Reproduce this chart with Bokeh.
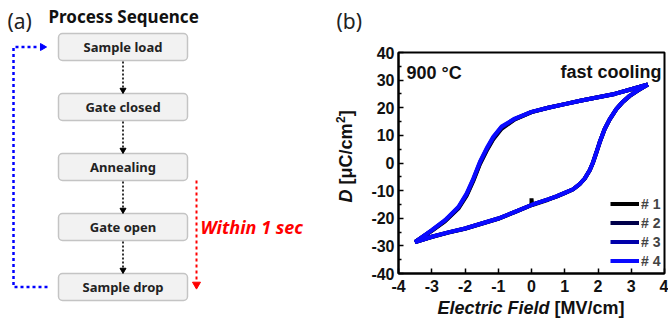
import math
from bokeh.plotting import figure
from bokeh.layouts import row, column
from bokeh.models import Range1d, FixedTicker, Label
from bokeh.core.properties import value
from bokeh.embed import file_html
from bokeh.resources import INLINE

# ---------------- data ----------------
steps = ["Sample load", "Gate closed", "Annealing", "Gate open", "Sample drop"]
note_text = "Within 1 sec"

E_loop = [3.5, 3.0, 2.5, 2.0, 1.5, 1.0, 0.5, 0.0, -0.5, -0.9, -1.15, -1.35, -1.55, -1.75, -1.95, -2.2, -2.6, -3.0, -3.5,
          -3.0, -2.5, -2.0, -1.5, -1.0, -0.5, 0.0, 0.0, 0.02, 0.5, 0.75, 1.0, 1.25, 1.45, 1.6, 1.75, 1.85, 1.95, 2.05,
          2.2, 2.35, 2.55, 2.75, 2.95, 3.2, 3.5]
D_1 = [28.4, 26.7, 25.0, 23.8, 22.6, 21.3, 20.0, 18.4, 15.8, 12.4, 8.6, 4.4, -0.4, -6.5, -11.8, -16.5, -21.1, -24.6, -28.6,
       -26.8, -25.2, -23.8, -22.0, -20.2, -17.8, -15.3, -12.8, -15.2, -13.3, -12.2, -10.9, -9.6, -7.7, -5.7, -2.7, 0.1,
       3.7, 7.4, 12.2, 15.7, 19.4, 22.1, 24.2, 26.2, 28.4]
D_2 = [28.4, 26.7, 25.0, 23.8, 22.6, 21.3, 20.0, 18.4, 15.9, 12.7, 8.9, 4.7, -0.1, -6.2, -11.5, -16.3, -20.9, -24.5, -28.6,
       -26.7, -25.1, -23.7, -21.9, -20.1, -17.7, -15.2, -15.2, -15.1, -13.2, -12.1, -10.8, -9.5, -7.6, -5.6, -2.6, 0.2,
       3.8, 7.5, 12.3, 15.8, 19.5, 22.2, 24.3, 26.3, 28.4]
D_3 = [28.4, 26.7, 25.0, 23.8, 22.6, 21.3, 20.0, 18.5, 16.0, 13.0, 9.2, 5.0, 0.2, -5.9, -11.3, -16.1, -20.8, -24.4, -28.6,
       -26.7, -25.1, -23.7, -21.9, -20.1, -17.7, -15.2, -15.2, -15.1, -13.2, -12.1, -10.8, -9.5, -7.6, -5.6, -2.6, 0.2,
       3.8, 7.5, 12.3, 15.8, 19.5, 22.2, 24.3, 26.3, 28.4]
D_4 = [28.4, 26.7, 25.0, 23.8, 22.6, 21.3, 20.0, 18.5, 16.1, 13.2, 9.5, 5.3, 0.5, -5.6, -11.0, -15.9, -20.7, -24.3, -28.6,
       -26.7, -25.1, -23.7, -21.9, -20.1, -17.7, -15.2, -15.2, -15.1, -13.2, -12.1, -10.8, -9.5, -7.6, -5.6, -2.6, 0.2,
       3.8, 7.5, 12.3, 15.8, 19.5, 22.2, 24.3, 26.3, 28.4]
series_labels = ["# 1", "# 2", "# 3", "# 4"]
series_colors = ["#000000", "#00004a", "#0000aa", "#0a0aff"]
x_ticks = [-4, -3, -2, -1, 0, 1, 2, 3, 4]
y_ticks = [-40, -30, -20, -10, 0, 10, 20, 30, 40]
y_minor = [-35, -25, -15, -5, 5, 15, 25, 35]

H = 322
WTOT = 668
FL, FR, FT, FB = 398, 664, 52, 273   # panel (b) frame edges in page pixels
WA = 368                             # panel (a) canvas (also carries the y label of (b))
HB = 298                             # height of the (b) plot canvas; x-label strip below it

def blank(w, h, x0, y0):
    f = figure(width=w, height=h, x_range=Range1d(x0, x0 + w), y_range=Range1d(y0 + h, y0),
               x_axis_type=None, y_axis_type=None, toolbar_location=None, output_backend="svg",
               min_border=0, min_border_left=0, min_border_right=0, min_border_top=0, min_border_bottom=0)
    f.outline_line_color = None
    f.grid.visible = False
    return f

# ---------------- panel (a) ----------------
pa = blank(WA, H, 0, 0)

box_left, box_w, box_h, top0, pitch = 58, 129, 27, 33, 60
tops = [top0 + pitch * i for i in range(len(steps))]
bots = [t + box_h for t in tops]
pa.quad(left=[box_left] * len(steps), right=[box_left + box_w] * len(steps), top=tops, bottom=bots,
        fill_color="#f2f2f2", line_color="#c4c4c4", line_width=1.5, border_radius=4)
cx = box_left + box_w / 2
pa.text(x=[cx] * len(steps), y=[t + box_h / 2 for t in tops], text=steps, text_align="center",
        text_baseline="middle", text_font=value("Noto Sans"), text_font_style="bold",
        text_font_size="13px", text_color="#222222")

ys0 = [b + 1 for b in bots[:-1]]
ys1 = [t - 5 for t in tops[1:]]
pa.segment(x0=[cx] * 4, y0=ys0, x1=[cx] * 4, y1=ys1, line_color="black", line_width=1.6, line_dash="2 2")
pa.scatter(x=[cx] * 4, y=[t - 3.5 for t in tops[1:]], marker="inverted_triangle", size=6,
           fill_color="black", line_color="black")

bx = 13
pa.line(x=[box_left - 11, bx, bx, box_left - 19], y=[tops[-1] + box_h / 2, tops[-1] + box_h / 2,
        tops[0] + box_h / 2, tops[0] + box_h / 2], line_color="#0000ff", line_width=2.5, line_dash="3 3")
pa.scatter(x=[box_left - 16], y=[tops[0] + box_h / 2], marker="triangle", angle=-math.pi / 2, size=7,
           fill_color="#0000ff", line_color="#0000ff")

rx = 196
pa.segment(x0=[rx], y0=[tops[2] + box_h], x1=[rx], y1=[tops[4] + 7], line_color="#ff0000", line_width=2,
           line_dash="3 3")
pa.scatter(x=[rx], y=[tops[4] + 11], marker="inverted_triangle", size=8, fill_color="#ff0000", line_color="#ff0000")
pa.text(x=[200], y=[tops[3] + box_h / 2], text=[note_text], text_align="left", text_baseline="middle",
        text_font=value("Noto Sans"), text_font_style="bold italic", text_font_size="18px", text_color="#ff0000")

pa.text(x=[7, 336], y=[20, 20], text=["(a)", "(b)"], text_align="left", text_baseline="middle",
        text_font=value("Noto Sans"), text_font_size="21px", text_color="#222222")
pa.text(x=[48], y=[16], text=["Process Sequence"], text_align="left", text_baseline="middle",
        text_font=value("Noto Sans"), text_font_style="bold", text_font_size="17px", text_color="#111111")

# y-axis label of panel (b), rotated, drawn in pixel space
A = math.pi / 2
def vt(f, x, y, text, style="bold", size="18px", align="left"):
    f.text(x=[x], y=[y], text=[text], angle=A, text_align=align, text_baseline="middle",
           text_font=value("Liberation Sans"), text_font_style=style, text_font_size=size, text_color="#111111")
vt(pa, 345, 189, "D", style="bold italic", align="right")
vt(pa, 345, 184, "[μC/cm")
vt(pa, 340, 122.5, "2", size="12px")
vt(pa, 345, 115.8, "]")

# ---------------- panel (b) ----------------
WB = WTOT - WA
pb = figure(width=WB, height=HB, x_range=Range1d(-4, 4), y_range=Range1d(-40, 40),
            toolbar_location=None, output_backend="svg",
            min_border_left=FL - WA, min_border_right=WTOT - FR, min_border_top=FT, min_border_bottom=HB - FB)
pb.grid.visible = False
pb.outline_line_color = "black"
pb.outline_line_width = 2
for ax in (pb.xaxis[0], pb.yaxis[0]):
    ax.axis_line_width = 2
    ax.major_tick_in = 5
    ax.major_tick_out = 0
    ax.minor_tick_in = 3
    ax.minor_tick_out = 0
    ax.major_tick_line_width = 1.5
    ax.minor_tick_line_width = 1.5
    ax.major_label_text_font = "Liberation Sans"
    ax.major_label_text_font_style = "bold"
    ax.major_label_text_font_size = "16px"
    ax.major_label_text_color = "#111111"
pb.xaxis[0].ticker = FixedTicker(ticks=x_ticks)
pb.xaxis[0].minor_tick_line_color = None
pb.xaxis[0].major_label_overrides = {t: str(t) for t in x_ticks}
pb.xaxis[0].major_label_standoff = 6
pb.yaxis[0].ticker = FixedTicker(ticks=y_ticks, minor_ticks=y_minor)
pb.yaxis[0].major_label_overrides = {t: str(t) for t in y_ticks}
pb.yaxis[0].major_label_standoff = 4

for D, lab, col in zip([D_1, D_2, D_3, D_4], series_labels, series_colors):
    pb.line(E_loop, D, line_color=col, line_width=4, legend_label=lab)

lg = pb.legend[0]
lg.location = "bottom_right"
lg.margin = 3
lg.padding = 0
lg.spacing = 0
lg.glyph_width = 29
lg.glyph_height = 19
lg.label_height = 19
lg.label_standoff = 2
lg.label_text_font = "Liberation Sans"
lg.label_text_font_style = "bold"
lg.label_text_font_size = "14px"
lg.background_fill_alpha = 0
lg.border_line_color = None

def X(px):
    return -4 + (px - FL) * 8 / (FR - FL)

def Y(py):
    return -40 + (FB - py) * 80 / (FB - FT)

pb.add_layout(Label(x=X(406), y=Y(72), text="900 °C", text_align="left", text_baseline="middle",
                    text_font="Liberation Sans", text_font_style="bold", text_font_size="18px", text_color="#111111"))
pb.add_layout(Label(x=X(661), y=Y(71), text="fast cooling", text_align="right", text_baseline="middle",
                    text_font="Liberation Sans", text_font_style="bold", text_font_size="18px", text_color="#111111"))

# x-axis label strip under panel (b)
pc = blank(WB, H - HB, WA, HB)
for txt, st, al, x in [("Electric Field", "bold italic", "right", 549), ("[MV/cm]", "bold", "left", 554)]:
    pc.text(x=[x], y=[307], text=[txt], text_align=al, text_baseline="middle",
            text_font=value("Liberation Sans"), text_font_style=st, text_font_size="18px", text_color="#111111")

layout = row(column(pa), column(pb, column(pc)))
open("out.html", "w").write(file_html(layout, INLINE))
